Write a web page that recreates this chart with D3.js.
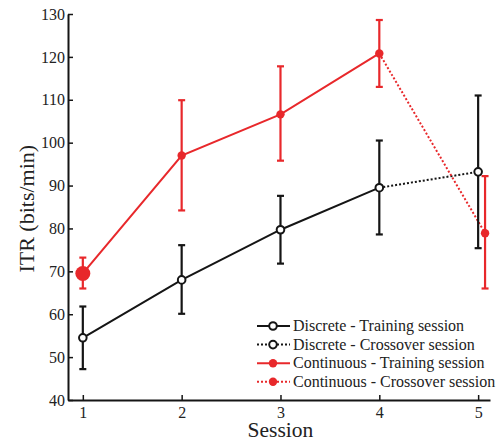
<!DOCTYPE html>
<html>
<head>
<meta charset="utf-8">
<script src="https://cdn.jsdelivr.net/npm/d3@7"></script>
<style>
  body { margin: 0; background: #fff; }
  text { font-family: "Liberation Serif", "Times New Roman", serif; fill: #222; }
</style>
</head>
<body>
<svg id="chart" width="500" height="443"></svg>
<script>
// Sessions and values
let sessions = [1, 2, 3, 4, 5];
let discreteMean = [54.5, 68, 79.7, 89.5, 93.2];
let discreteLow = [47.2, 60.1, 71.8, 78.6, 75.4];
let discreteHigh = [61.8, 76.1, 87.6, 100.5, 111];
// continuous crossover point was plotted a bit right of session 5
let contSessions = [1, 2, 3, 4, 5.07];
let contMean = [69.5, 97, 106.6, 120.8, 78.9];
let contLow = [66, 84.2, 95.8, 113, 66];
let contHigh = [73.2, 109.9, 117.8, 128.6, 92.2];
let yTicks = [40, 50, 60, 70, 80, 90, 100, 110, 120, 130];
let legendLabels = [
    'Discrete - Training session',
    'Discrete - Crossover session',
    'Continuous - Training session',
    'Continuous - Crossover session'
];

let black = '#151515';
let red = '#e8282b';

let svg = d3.select('#chart');

let x = d3.scaleLinear().domain([0.85, 5.12]).range([68, 490]);
let y = d3.scaleLinear().domain([40, 130]).range([400, 14]);

// Axes with inward ticks
let yAxis = svg.append('g')
    .attr('transform', `translate(${x.range()[0]},0)`)
    .call(d3.axisLeft(y).tickValues(yTicks).tickSizeInner(-5).tickSizeOuter(0).tickPadding(3));
let xAxis = svg.append('g')
    .attr('transform', `translate(0,${y.range()[0]})`)
    .call(d3.axisBottom(x).tickValues(sessions).tickFormat(d3.format('d')).tickSizeInner(-5).tickSizeOuter(0).tickPadding(7));

[yAxis, xAxis].forEach((g) => {
    g.attr('font-family', null);
    g.select('.domain').attr('stroke', black).attr('stroke-width', 2);
    g.selectAll('.tick line').attr('stroke', black).attr('stroke-width', 1.5);
    g.selectAll('.tick text').attr('font-size', 16).attr('fill', '#222');
});

svg.append('text')
    .attr('x', x(3))
    .attr('y', 437)
    .attr('text-anchor', 'middle')
    .attr('font-size', 21.5)
    .text('Session');

svg.append('text')
    .attr('transform', `translate(34,${y(84.6)}) rotate(-90)`)
    .attr('text-anchor', 'middle')
    .attr('font-size', 22)
    .text('ITR (bits/min)');

// Build point lists
let disc = sessions.map((s, i) => ({ s, m: discreteMean[i], lo: discreteLow[i], hi: discreteHigh[i] }));
let cont = contSessions.map((s, i) => ({ s, m: contMean[i], lo: contLow[i], hi: contHigh[i] }));

let line = d3.line().x((d) => x(d.s)).y((d) => y(d.m));

let drawLines = (pts, color) => {
    svg.append('path')
        .datum(pts.slice(0, 4))
        .attr('fill', 'none')
        .attr('stroke', color)
        .attr('stroke-width', 2)
        .attr('d', line);
    svg.append('path')
        .datum(pts.slice(3))
        .attr('fill', 'none')
        .attr('stroke', color)
        .attr('stroke-width', 2)
        .attr('stroke-dasharray', '2,2')
        .attr('d', line);
};

let drawErrors = (pts, color) => {
    let g = svg.append('g').attr('stroke', color).attr('stroke-width', 2.2);
    g.selectAll('.stem').data(pts).enter().append('line')
        .attr('x1', (d) => x(d.s)).attr('x2', (d) => x(d.s))
        .attr('y1', (d) => y(d.lo)).attr('y2', (d) => y(d.hi));
    g.selectAll('.capLo').data(pts).enter().append('line')
        .attr('x1', (d) => x(d.s) - 3.5).attr('x2', (d) => x(d.s) + 3.5)
        .attr('y1', (d) => y(d.lo)).attr('y2', (d) => y(d.lo));
    g.selectAll('.capHi').data(pts).enter().append('line')
        .attr('x1', (d) => x(d.s) - 3.5).attr('x2', (d) => x(d.s) + 3.5)
        .attr('y1', (d) => y(d.hi)).attr('y2', (d) => y(d.hi));
};

drawLines(disc, black);
drawLines(cont, red);
drawErrors(disc, black);
drawErrors(cont, red);

// Markers
svg.selectAll('.discMark').data(disc).enter().append('circle')
    .attr('cx', (d) => x(d.s))
    .attr('cy', (d) => y(d.m))
    .attr('r', 3.8)
    .attr('fill', '#fff')
    .attr('stroke', black)
    .attr('stroke-width', 2);

svg.selectAll('.contMark').data(cont).enter().append('circle')
    .attr('cx', (d) => x(d.s))
    .attr('cy', (d) => y(d.m))
    .attr('r', (d, i) => (i === 0 ? 7.5 : 4.2))
    .attr('fill', red);

// Legend
let legend = svg.append('g').attr('transform', 'translate(257,326)');
let legendStyles = [
    { color: black, dash: null, open: true },
    { color: black, dash: '2,2', open: true },
    { color: red, dash: null, open: false },
    { color: red, dash: '2,2', open: false }
];
legendLabels.forEach((label, i) => {
    let st = legendStyles[i];
    let row = legend.append('g').attr('transform', `translate(0,${i * 18.6})`);
    row.append('line')
        .attr('x1', 0).attr('x2', 33)
        .attr('stroke', st.color)
        .attr('stroke-width', 2)
        .attr('stroke-dasharray', st.dash);
    row.append('circle')
        .attr('cx', 16).attr('r', st.open ? 3.8 : 4.2)
        .attr('fill', st.open ? '#fff' : st.color)
        .attr('stroke', st.open ? st.color : 'none')
        .attr('stroke-width', 2);
    row.append('text')
        .attr('x', 36)
        .attr('dy', '0.33em')
        .attr('font-size', 16)
        .text(label);
});
</script>
</body>
</html>
